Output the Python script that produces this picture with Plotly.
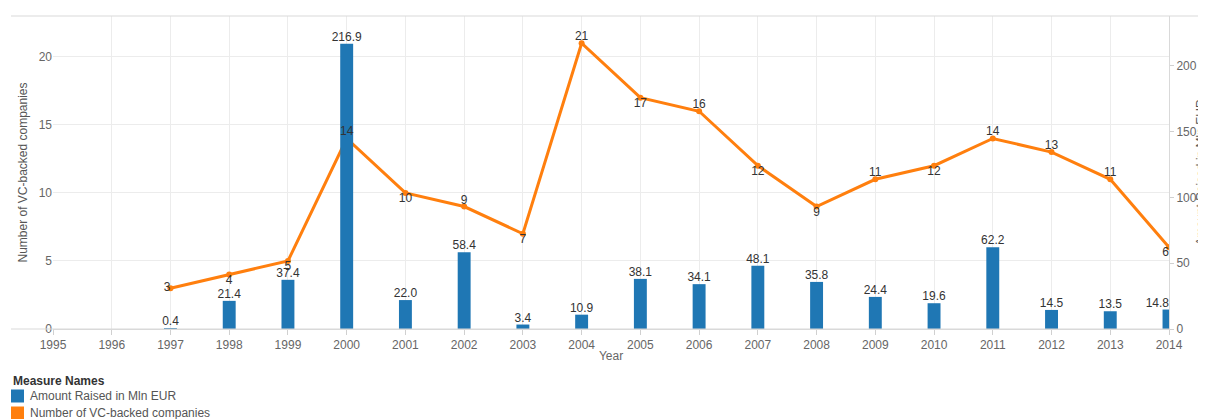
import plotly.graph_objects as go

# data
years = [1997, 1998, 1999, 2000, 2001, 2002, 2003, 2004, 2005, 2006,
         2007, 2008, 2009, 2010, 2011, 2012, 2013, 2014]
amount = [0.4, 21.4, 37.4, 216.9, 22.0, 58.4, 3.4, 10.9, 38.1, 34.1,
          48.1, 35.8, 24.4, 19.6, 62.2, 14.5, 13.5, 14.8]
companies = [3, 4, 5, 14, 10, 9, 7, 21, 17, 16, 12, 9, 11, 12, 14, 13, 11, 6]
series = ["Amount Raised in Mln EUR", "Number of VC-backed companies"]

# label placement (Tableau style)
line_pos = ["middle left", "bottom center", "bottom center", "top center",
            "bottom center", "top center", "bottom center", "top center",
            "bottom center", "top center", "bottom center", "bottom center",
            "top center", "bottom center", "top center", "top center",
            "top center", "bottom left"]
bar_pos = ["top center"] * 17 + ["top left"]

BLUE = "#1f77b4"
ORANGE = "#ff7f0e"
FONT = "Liberation Sans"

# page body adds 8px, so the figure is 8px smaller than the window
W, H = 1198, 411
L, R, T, B = 45, 1161, 8, 321
def px(x):
    return (x - L) / (R - L)
def py(y):
    return (B - y) / (B - T)

fig = go.Figure()

# line on left axis (drawn first, sits under the bars)
fig.add_trace(go.Scatter(x=years, y=companies, mode="lines+markers",
                         line=dict(color=ORANGE, width=3),
                         marker=dict(color=ORANGE, size=6),
                         yaxis="y", name=series[1]))

# bars on right axis
fig.add_trace(go.Bar(x=years, y=amount, width=0.22, marker_color=BLUE,
                     marker_line_width=0, yaxis="y2", name=series[0]))

# bar labels
fig.add_trace(go.Scatter(x=years, y=amount, mode="text",
                         text=[f"{v:.1f}" for v in amount],
                         textposition=bar_pos, cliponaxis=False,
                         textfont=dict(size=12, color="#333333", family=FONT),
                         yaxis="y2", hoverinfo="skip"))

# line labels on top of everything
fig.add_trace(go.Scatter(x=years, y=companies, mode="text",
                         text=[str(v) for v in companies],
                         textposition=line_pos, cliponaxis=False,
                         textfont=dict(size=12, color="#333333", family=FONT),
                         yaxis="y3", hoverinfo="skip"))

# legend block (Tableau style, bottom left)
annotations = [dict(xref="paper", yref="paper", x=px(3), y=py(373),
                    xanchor="left", yanchor="middle", showarrow=False,
                    text="<b>Measure Names</b>",
                    font=dict(size=12, color="#333333"))]
shapes = []
for i, (name, col) in enumerate(zip(series, [BLUE, ORANGE])):
    yc = 388 + 17 * i
    shapes.append(dict(type="rect", xref="paper", yref="paper",
                       x0=px(3), x1=px(16), y0=py(yc - 6.5), y1=py(yc + 6.5),
                       fillcolor=col, line_width=0))
    annotations.append(dict(xref="paper", yref="paper", x=px(20), y=py(yc),
                            xanchor="left", yanchor="middle", showarrow=False,
                            text=name, font=dict(size=12, color="#555555")))

# right axis title, hugging the window edge as in the original
annotations.append(dict(xref="paper", yref="paper", x=px(1192), y=0.5,
                        xanchor="center", yanchor="middle", showarrow=False,
                        textangle=-90, text=series[0],
                        font=dict(size=12, color="#555555")))

shapes += [
    dict(type="line", xref="paper", yref="paper", x0=px(3), x1=px(W),
         y0=1, y1=1, line=dict(color="#d9d9d9", width=1)),
    dict(type="line", xref="paper", yref="paper", x0=px(3), x1=1,
         y0=0, y1=0, line=dict(color="#d9d9d9", width=1)),
]

fig.update_layout(
    width=W, height=H,
    margin=dict(l=L, r=W - R, t=T, b=H - B, autoexpand=False),
    paper_bgcolor="white", plot_bgcolor="white",
    font=dict(family=FONT, size=12, color="#666666"),
    barmode="overlay",
    showlegend=False,
    xaxis=dict(range=[1995, 2014], tick0=1995, dtick=1,
               showgrid=True, gridcolor="#ececec",
               ticks="outside", ticklen=5, tickcolor="#d0d0d0",
               showline=True, linecolor="#d9d9d9", linewidth=1,
               zeroline=False,
               title=dict(text="Year", standoff=0,
                          font=dict(size=12, color="#666666"))),
    yaxis=dict(range=[0, 23], tickvals=[0, 5, 10, 15, 20],
               showgrid=True, gridcolor="#ececec", zeroline=False,
               ticks="", showline=False,
               title=dict(text="Number of VC-backed companies", standoff=8,
                          font=dict(size=12, color="#555555"))),
    yaxis2=dict(range=[0, 238], tickvals=[0, 50, 100, 150, 200],
                overlaying="y", side="right", showgrid=False, zeroline=False,
                ticks="outside", ticklen=4, tickcolor="#d0d0d0",
                showline=True, linecolor="#d9d9d9"),
    yaxis3=dict(range=[0, 23], overlaying="y", visible=False),
    annotations=annotations,
    shapes=shapes,
)

fig.write_html("out.html")
